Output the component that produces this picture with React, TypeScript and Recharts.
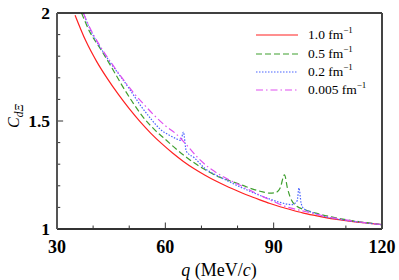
import React from 'react';
import { LineChart, Line, XAxis, YAxis, ReferenceLine, Legend } from 'recharts';

const q10 = [35, 38, 41, 44, 47, 50, 53, 56, 59, 62, 65, 68, 71, 74, 77, 80, 83, 86, 89, 92, 95, 98, 101, 104, 108, 112, 116, 120];
const c10 = [1.99, 1.87, 1.775, 1.695, 1.623, 1.557, 1.497, 1.443, 1.395, 1.352, 1.313, 1.279, 1.249, 1.222, 1.198, 1.176, 1.155, 1.136, 1.118, 1.102, 1.088, 1.075, 1.064, 1.054, 1.043, 1.034, 1.027, 1.02];

const q05 = [36.8, 39, 42, 45, 48, 51, 54, 57, 60, 63, 66, 69, 72, 75, 78, 81, 84, 87, 89, 90.5, 91.8, 93, 93.8, 94.5, 96.4, 98.7, 102, 106, 110, 115, 120];
const c05 = [2.0, 1.915, 1.835, 1.752, 1.665, 1.585, 1.515, 1.46, 1.415, 1.37, 1.33, 1.295, 1.265, 1.24, 1.222, 1.205, 1.186, 1.172, 1.166, 1.168, 1.19, 1.251, 1.19, 1.151, 1.105, 1.089, 1.072, 1.056, 1.043, 1.031, 1.02];

const q02 = [37.3, 39, 42, 45, 47.6, 50, 53, 56.2, 58.5, 61, 63, 64.3, 65.0, 65.8, 68, 71, 74, 77, 80, 83, 86, 89, 92, 95, 96.5, 97, 97.6, 98.3, 101, 104, 108, 112, 116, 120];
const c02 = [2.0, 1.93, 1.84, 1.765, 1.706, 1.65, 1.575, 1.506, 1.463, 1.435, 1.418, 1.41, 1.449, 1.36, 1.33, 1.28, 1.25, 1.225, 1.2, 1.178, 1.157, 1.138, 1.122, 1.113, 1.13, 1.19, 1.12, 1.095, 1.075, 1.058, 1.045, 1.035, 1.027, 1.02];

const q005 = [37.3, 39, 42, 45, 48, 51, 54, 57, 60, 63, 66, 69, 72, 75, 78, 81, 84, 87, 90, 93, 96, 99, 102, 106, 110, 115, 120];
const c005 = [2.0, 1.935, 1.845, 1.77, 1.7, 1.635, 1.578, 1.525, 1.478, 1.44, 1.387, 1.33, 1.285, 1.252, 1.225, 1.2, 1.175, 1.15, 1.127, 1.106, 1.092, 1.08, 1.068, 1.053, 1.042, 1.03, 1.02];

const xTicks = [30, 60, 90, 120];
const yTicks = [1, 1.5, 2];
const xMinor = [40, 50, 70, 80, 100, 110];
const xMajor = [60, 90];
const yMinor = [1.1, 1.2, 1.3, 1.4, 1.6, 1.7, 1.8, 1.9];
const yMajor = [1.5];

const seriesNames = ['1.0', '0.5', '0.2', '0.005'];
const colors = ['#ff2020', '#3f9f2f', '#4a64ff', '#e050f0'];
const dashes = ['', '6 3', '1.5 1.5', '7 3 1.5 3'];

const mk = (qs: number[], cs: number[]) => qs.map((q, i) => ({ q, c: cs[i] }));
const datasets = [mk(q10, c10), mk(q05, c05), mk(q02, c02), mk(q005, c005)];

const serif = '"Liberation Serif", "Times New Roman", serif';

const LegendContent = () => (
  <div style={{ fontFamily: serif, fontSize: 13.5, color: '#000' }}>
    {seriesNames.map((n, i) => (
      <div key={n} style={{ display: 'flex', alignItems: 'center', height: 18.4 }}>
        <svg width={42} height={6} style={{ marginRight: 10 }}>
          <line x1={0} y1={3} x2={42} y2={3} stroke={colors[i]} strokeWidth={1.2} strokeDasharray={dashes[i]} />
        </svg>
        <span>
          {n} fm<sup style={{ fontSize: 9, verticalAlign: 'top', position: 'relative', top: -2 }}>−1</sup>
        </span>
      </div>
    ))}
  </div>
);

export default function App() {
  return (
    <div style={{ position: 'absolute', left: 0, top: 0 }}>
      <LineChart width={399} height={280} margin={{ top: 12, right: 16, bottom: 0, left: 0 }}>
        <XAxis
          xAxisId="b"
          dataKey="q"
          type="number"
          domain={[30, 120]}
          ticks={xTicks}
          allowDataOverflow
          tickLine={false}
          tickSize={0}
          tickMargin={11}
          axisLine={{ stroke: '#333', strokeWidth: 2 }}
          tick={{ fill: '#000', fontFamily: serif, fontSize: 18, fontWeight: 'bold' }}
          height={51}
          label={{
            content: () => (
              <text x={219} y={276} textAnchor="middle" fontFamily={serif} fontSize={18} fill="#000">
                <tspan fontStyle="italic">q</tspan>
                <tspan> (MeV/</tspan>
                <tspan fontStyle="italic">c</tspan>
                <tspan>)</tspan>
              </text>
            ),
          }}
        />
        <XAxis xAxisId="t" orientation="top" type="number" domain={[30, 120]} tick={false} tickLine={false} axisLine={{ stroke: '#000', strokeWidth: 1.5 }} height={1} />
        <YAxis
          yAxisId="l"
          type="number"
          domain={[1, 2]}
          ticks={yTicks}
          allowDataOverflow
          tickLine={false}
          tickSize={0}
          tickMargin={7}
          width={57}
          axisLine={{ stroke: '#555', strokeWidth: 2 }}
          tick={{ fill: '#000', fontFamily: serif, fontSize: 17.5, fontWeight: 'bold' }}
          label={{
            content: () => (
              <text x={19} y={116} transform="rotate(-90, 19, 116)" textAnchor="middle" fontFamily={serif} fontSize={16} fill="#000">
                <tspan fontStyle="italic">C</tspan>
                <tspan fontStyle="italic" fontSize={11.5} dy={4}>dΞ</tspan>
              </text>
            ),
          }}
        />
        <YAxis yAxisId="r" orientation="right" type="number" domain={[1, 2]} tick={false} tickLine={false} axisLine={{ stroke: '#444', strokeWidth: 2 }} width={1} />
        {xMinor.map((t) => (
          <ReferenceLine key={'xm' + t} xAxisId="b" yAxisId="l" segment={[{ x: t, y: 1 }, { x: t, y: 1.016 }]} stroke="#333" strokeWidth={1} ifOverflow="visible" />
        ))}
        {xMajor.map((t) => (
          <ReferenceLine key={'xM' + t} xAxisId="b" yAxisId="l" segment={[{ x: t, y: 1 }, { x: t, y: 1.03 }]} stroke="#333" strokeWidth={1} ifOverflow="visible" />
        ))}
        {yMinor.map((t) => (
          <ReferenceLine key={'ym' + t} xAxisId="b" yAxisId="l" segment={[{ x: 30, y: t }, { x: 30.9, y: t }]} stroke="#333" strokeWidth={1} ifOverflow="visible" />
        ))}
        {yMajor.map((t) => (
          <ReferenceLine key={'yM' + t} xAxisId="b" yAxisId="l" segment={[{ x: 30, y: t }, { x: 31.7, y: t }]} stroke="#333" strokeWidth={1} ifOverflow="visible" />
        ))}
        {datasets.map((d, i) => (
          <Line
            key={seriesNames[i]}
            xAxisId="b"
            yAxisId="l"
            data={d}
            dataKey="c"
            type="monotone"
            stroke={colors[i]}
            strokeWidth={1.2}
            strokeDasharray={dashes[i] || undefined}
            dot={false}
            isAnimationActive={false}
          />
        ))}
        <Legend
          layout="horizontal"
          verticalAlign="middle"
          align="center"
          content={<LegendContent />}
          wrapperStyle={{ position: 'absolute', left: 256, top: 26, width: 130 }}
        />
      </LineChart>
    </div>
  );
}
